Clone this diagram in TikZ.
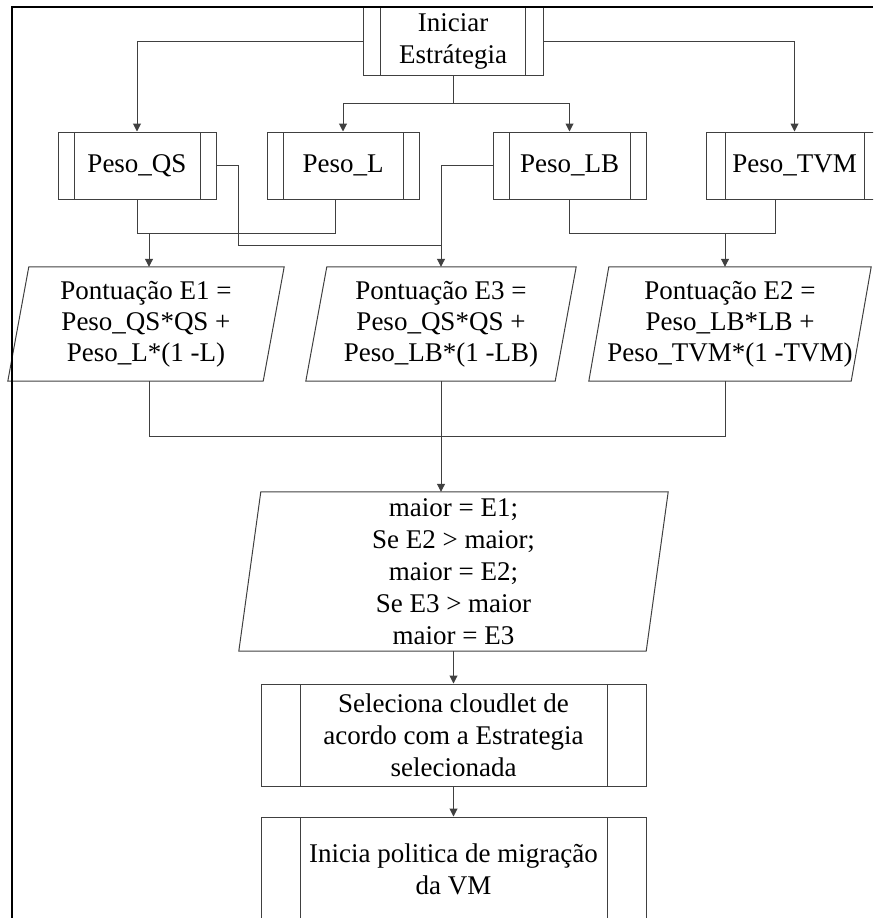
\documentclass[tikz,border=0pt]{standalone}
\usepackage{fontspec}
\setmainfont{Liberation Serif}
\usetikzlibrary{arrows.meta,calc}
\definecolor{lc}{HTML}{404040}
\begin{document}
\begin{tikzpicture}[x=1pt,y=-1pt,
  txt/.style={font=\fontsize{27}{32}\selectfont, align=center, inner sep=0pt},
  predef/.style={txt, draw=lc, line width=1pt, rectangle,
    path picture={\draw[lc, line width=1pt]
      ([xshift=#1]path picture bounding box.north west) -- ([xshift=#1]path picture bounding box.south west)
      ([xshift=-#1]path picture bounding box.north east) -- ([xshift=-#1]path picture bounding box.south east);}},
  predef/.default=17pt,
  io/.style={txt, font=\fontsize{27}{31}\selectfont, rectangle},
  conn/.style={draw=lc, line width=1pt},
  arr/.style={draw=lc, line width=1pt, -{Triangle[length=8pt,width=8pt]}}]
\useasboundingbox (0,0) rectangle (873,918);
\clip (0,0) rectangle (873,918);

% top process
\node[predef=17.5pt, minimum width=180pt, minimum height=68pt] (ini) at (453,41) {Iniciar\\Estrátegia};

% weight boxes
\node[predef=16pt, minimum width=158pt, minimum height=67pt] (qs) at (137,165.5) {Peso\_QS};
\node[predef=16pt, minimum width=152pt, minimum height=67pt] (pl) at (343,165.5) {Peso\_L};
\node[predef=16pt, minimum width=153pt, minimum height=67pt] (lb) at (569.5,165.5) {Peso\_LB};
\node[predef=19pt, minimum width=177pt, minimum height=67pt] (tvm) at (794.5,165.5) {Peso\_TVM};

% score parallelograms
\node[io, minimum width=276pt, minimum height=114pt] (e1) at (146,324) {Pontuação E1 =\\Peso\_QS*QS +\\Peso\_L*(1 -L)};
\node[io, minimum width=270pt, minimum height=114pt] (e3) at (441,324) {Pontuação E3 =\\Peso\_QS*QS +\\Peso\_LB*(1 -LB)};
\node[io, minimum width=282pt, minimum height=114pt] (e2) at (730,324) {Pontuação E2 =\\Peso\_LB*LB +\\Peso\_TVM*(1 -TVM)};

% decision parallelogram
\node[txt, rectangle, minimum width=429pt, minimum height=159pt] (dec) at (453.5,571.5) {maior = E1;\\Se E2 > maior;\\maior = E2;\\Se E3 > maior\\maior = E3};

\foreach \n/\s in {e1/21,e3/21,e2/20,dec/22}
  \draw[conn] ([xshift=\s pt]\n.north west) -- (\n.north east) -- ([xshift=-\s pt]\n.south east) -- (\n.south west) -- cycle;

% bottom processes
\node[predef=39pt, minimum width=385pt, minimum height=102pt] (sel) at (453.5,735) {Seleciona cloudlet de\\acordo com a Estrategia\\selecionada};
\node[predef=39pt, minimum width=385pt, minimum height=104pt] (mig) at (453.5,869) {Inicia politica de migração\\da VM};

% connectors from start
\draw[arr] (ini.west) -| (qs.north);
\draw[arr] (ini.east) -| (tvm.north);
\draw[conn] (ini.south) -- ++(0,28) coordinate (j1);
\draw[arr] (j1) -| (pl.north);
\draw[arr] (j1) -| (lb.north);

% to E3
\coordinate (m3) at (441,245);
\draw[conn] (qs.east) -- ++(22,0) |- (m3);
\draw[arr] (lb.west) -| (e3.north);

% to E1
\coordinate (j2) at (149,233);
\coordinate (plb) at ([xshift=-8pt]pl.south);
\draw[conn] (qs.south) |- (plb |- j2) -- (plb);
\draw[arr] (j2) -- (j2 |- e1.north);

% to E2
\coordinate (j3) at (725,233);
\coordinate (tvb) at ([xshift=-19.5pt]tvm.south);
\draw[conn] (lb.south) |- (tvb |- j3) -- (tvb);
\draw[arr] (j3) -- (j3 |- e2.north);

% join of scores
\coordinate (jb) at (441,436);
\draw[conn] (j2 |- e1.south) |- (j3 |- jb) -- (j3 |- e2.south);
\draw[arr] (e3.south) -- (e3.south |- dec.north);
\draw[arr] (dec.south) -- (sel.north);
\draw[arr] (sel.south) -- (mig.north);

% frame
\draw[black, line width=2pt] (12,918) -- (12,7) -- (873,7);
\end{tikzpicture}
\end{document}
